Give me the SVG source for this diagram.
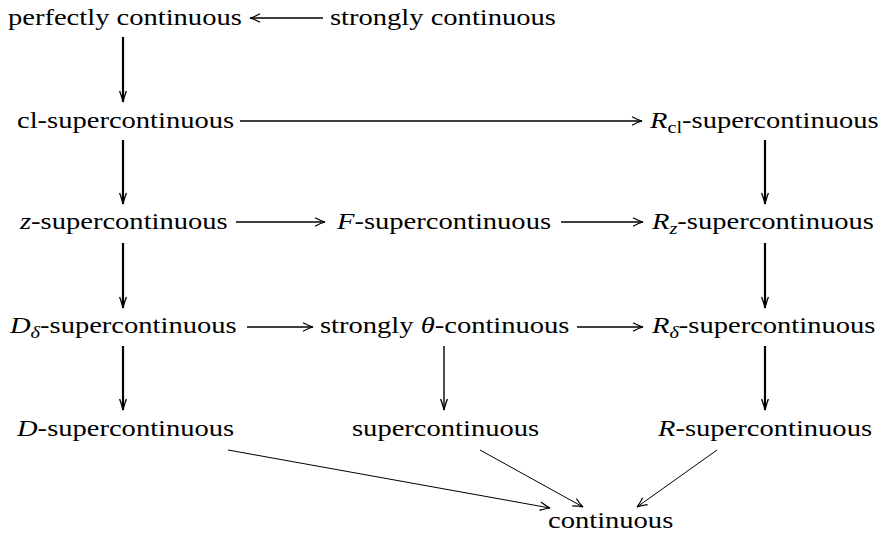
<svg xmlns="http://www.w3.org/2000/svg" width="886" height="534" viewBox="0 0 886 534">
<style>
.i{font-style:italic}
.s{font-size:17px}
.c line{stroke:#000;fill:none}
.h{stroke-width:1.6}
.v{stroke-width:2.2}
.vm{stroke-width:1.4}
.d{stroke-width:1}
</style>
<defs>
<marker id="ah" markerUnits="userSpaceOnUse" orient="auto" refX="0" refY="0" markerWidth="12" markerHeight="12" overflow="visible">
<path d="M-10,-4.2 Q-4,-1 0,0 Q-4,1 -10,4.2" fill="none" stroke="#000" stroke-width="1.2"/>
</marker>
<marker id="av" markerUnits="userSpaceOnUse" orient="auto" refX="0" refY="0" markerWidth="12" markerHeight="12" overflow="visible">
<path d="M-11,-3.4 Q-4,-0.8 0,0 Q-4,0.8 -11,3.4" fill="none" stroke="#000" stroke-width="1.3"/>
</marker>
</defs>
<g id="n-perfectly"><text font-family="Liberation Serif" font-size="24" transform="translate(8,25) scale(1.19,1)">perfectly continuous</text></g>
<g id="n-strongly"><text font-family="Liberation Serif" font-size="24" transform="translate(330,25) scale(1.19,1)">strongly continuous</text></g>
<g id="n-cl"><text font-family="Liberation Serif" font-size="24" transform="translate(17,128) scale(1.19,1)">cl-supercontinuous</text></g>
<g id="n-rcl"><text font-family="Liberation Serif" font-size="24" transform="translate(650,128) scale(1.19,1)"><tspan class="i">R</tspan><tspan class="s" dy="5">cl</tspan><tspan dy="-5">-supercontinuous</tspan></text></g>
<g id="n-z"><text font-family="Liberation Serif" font-size="24" transform="translate(20,229) scale(1.19,1)"><tspan class="i">z</tspan>-supercontinuous</text></g>
<g id="n-f"><text font-family="Liberation Serif" font-size="24" transform="translate(337,229) scale(1.19,1)"><tspan class="i">F</tspan>-supercontinuous</text></g>
<g id="n-rz"><text font-family="Liberation Serif" font-size="24" transform="translate(652,229) scale(1.19,1)"><tspan class="i">R</tspan><tspan class="s i" dy="5">z</tspan><tspan dy="-5">-supercontinuous</tspan></text></g>
<g id="n-dd"><text font-family="Liberation Serif" font-size="24" transform="translate(10,333) scale(1.19,1)"><tspan class="i">D</tspan><tspan class="s i" dy="5">δ</tspan><tspan dy="-5">-supercontinuous</tspan></text></g>
<g id="n-theta"><text font-family="Liberation Serif" font-size="24" transform="translate(320,333) scale(1.19,1)">strongly <tspan class="i">θ</tspan>-continuous</text></g>
<g id="n-rd"><text font-family="Liberation Serif" font-size="24" transform="translate(652,333) scale(1.19,1)"><tspan class="i">R</tspan><tspan class="s i" dy="5">δ</tspan><tspan dy="-5">-supercontinuous</tspan></text></g>
<g id="n-d"><text font-family="Liberation Serif" font-size="24" transform="translate(17,436) scale(1.19,1)"><tspan class="i">D</tspan>-supercontinuous</text></g>
<g id="n-super"><text font-family="Liberation Serif" font-size="24" transform="translate(352,436) scale(1.19,1)">supercontinuous</text></g>
<g id="n-r"><text font-family="Liberation Serif" font-size="24" transform="translate(658,436) scale(1.19,1)"><tspan class="i">R</tspan>-supercontinuous</text></g>
<g id="n-cont"><text font-family="Liberation Serif" font-size="24" transform="translate(548,528) scale(1.19,1)">continuous</text></g>
<g id="connectors" class="c">
<line class="h" x1="323" y1="18" x2="250" y2="18" marker-end="url(#ah)"/>
<line class="v" x1="123" y1="37" x2="123" y2="102" marker-end="url(#av)"/>
<line class="h" x1="240" y1="121" x2="642" y2="121" marker-end="url(#ah)"/>
<line class="v" x1="765" y1="140" x2="765" y2="204" marker-end="url(#av)"/>
<line class="v" x1="123" y1="140" x2="123" y2="204" marker-end="url(#av)"/>
<line class="h" x1="236" y1="222" x2="325" y2="222" marker-end="url(#ah)"/>
<line class="h" x1="561" y1="222" x2="643" y2="222" marker-end="url(#ah)"/>
<line class="v" x1="123" y1="243" x2="123" y2="308" marker-end="url(#av)"/>
<line class="v" x1="765" y1="243" x2="765" y2="308" marker-end="url(#av)"/>
<line class="h" x1="247" y1="327" x2="313" y2="327" marker-end="url(#ah)"/>
<line class="h" x1="577" y1="327" x2="643" y2="327" marker-end="url(#ah)"/>
<line class="v" x1="123" y1="346" x2="123" y2="410" marker-end="url(#av)"/>
<line class="vm" x1="444" y1="346" x2="444" y2="410" marker-end="url(#av)"/>
<line class="v" x1="765" y1="346" x2="765" y2="410" marker-end="url(#av)"/>
<line class="d" x1="228" y1="450" x2="550" y2="508" marker-end="url(#ah)"/>
<line class="d" x1="480" y1="450" x2="583" y2="507" marker-end="url(#ah)"/>
<line class="d" x1="717" y1="450" x2="637" y2="507" marker-end="url(#ah)"/>
</g>
</svg>
